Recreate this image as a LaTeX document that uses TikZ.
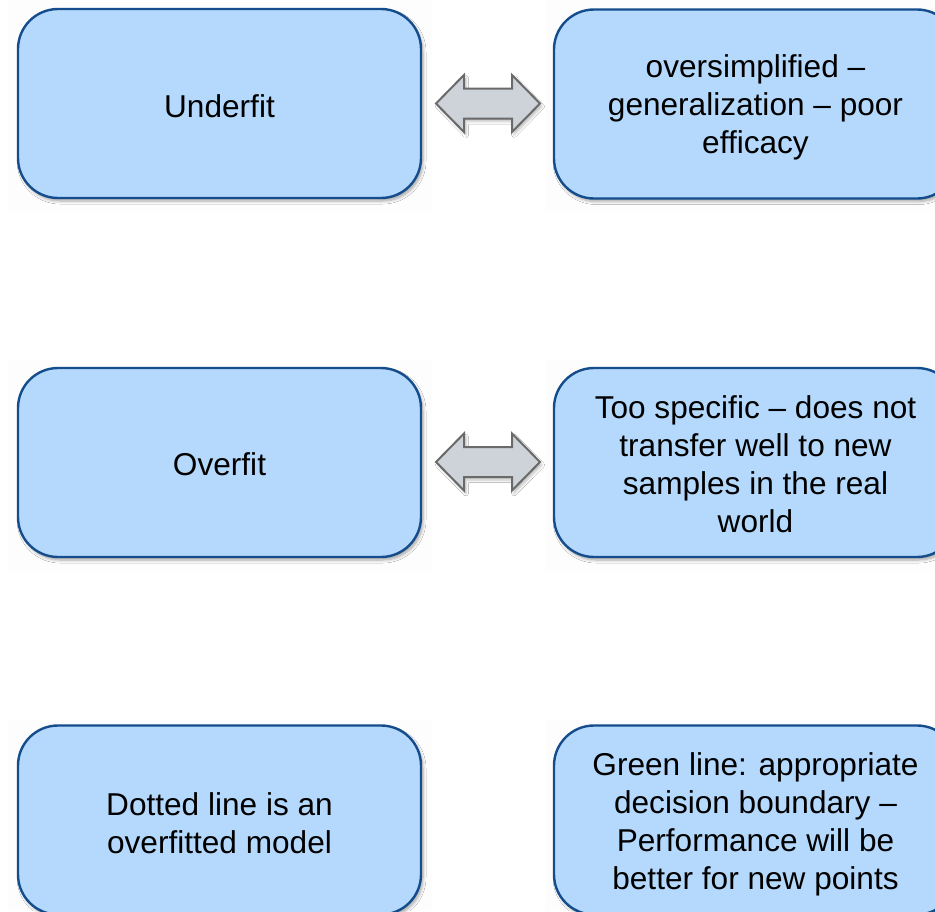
\documentclass[tikz,border=0pt]{standalone}
\usepackage{fontspec}
\setmainfont{Liberation Sans}
\usetikzlibrary{shadows.blur}

\definecolor{boxfill}{HTML}{B4D9FC}
\definecolor{boxline}{HTML}{154D8C}
\definecolor{arrfill}{HTML}{CDD3D8}
\definecolor{arrline}{HTML}{6A6A6A}
\definecolor{patch}{HTML}{FDFDFD}

\tikzset{
  infobox/.style={draw=boxline, line width=2.4pt, fill=boxfill,
    rounded corners=40pt, minimum width=403pt, minimum height=189pt,
    align=center, inner sep=0pt,
    blur shadow={shadow xshift=2pt, shadow yshift=-3pt, shadow opacity=35, shadow blur steps=6, shadow blur radius=3pt}},
  boxtext/.style={align=center, inner sep=0pt, font=\fontsize{31.6}{38}\selectfont},
  arrowshape/.style={draw=arrline, line width=2pt, fill=arrfill, line join=miter,
    blur shadow={shadow xshift=2pt, shadow yshift=-3pt, shadow opacity=25, shadow blur steps=5, shadow blur radius=2.5pt}},
  dblarrow/.pic={
    \draw[arrowshape] (-52,0) -- (-24,-28.5) -- (-24,-15) -- (24,-15) -- (24,-28.5)
      -- (52,0) -- (24,28.5) -- (24,15) -- (-24,15) -- (-24,28.5) -- cycle;
  },
  bgpatch/.style={fill=patch, draw=none}
}

\begin{document}
\begin{tikzpicture}[x=1pt, y=-1pt]
  \useasboundingbox (0,0) rectangle (935,911);
  \clip (0,0) rectangle (935,911);
  \fill[white] (0,0) rectangle (935,911);

  % faint slide backgrounds behind each box
  \fill[bgpatch] (8,0) rectangle (432,213);
  \fill[bgpatch] (545,0) rectangle (935,213);
  \fill[bgpatch] (8,360) rectangle (432,571);
  \fill[bgpatch] (545,360) rectangle (935,571);
  \fill[bgpatch] (8,720) rectangle (432,911);
  \fill[bgpatch] (545,720) rectangle (935,911);

  % row 1
  \node[infobox] (under) at (219.5,103.5) {};
  \node[boxtext] at ([yshift=-3pt]under.center) {Underfit};
  \node[infobox] (underdesc) at (755.5,104) {};
  \node[boxtext] at ([yshift=-3pt]underdesc.center) {oversimplified –\\generalization – poor\\efficacy};
  \pic (arrA) at (488,103.5) {dblarrow};

  % row 2
  \node[infobox] (over) at (219.5,462.5) {};
  \node[boxtext] at ([yshift=-2pt]over.center) {Overfit};
  \node[infobox] (overdesc) at (755.5,462.5) {};
  \node[boxtext] at ([yshift=-2pt]overdesc.center) {Too specific – does not\\transfer well to new\\samples in the real\\world};
  \pic (arrB) at (488,462) {dblarrow};

  % row 3
  \node[infobox] (dotted) at (219.5,820) {};
  \node[boxtext] at ([yshift=-3pt]dotted.center) {Dotted line is an\\overfitted model};
  \node[infobox] (green) at (755.5,820) {};
  \node[boxtext] at ([yshift=-4pt]green.center) {Green line: appropriate\\decision boundary –\\Performance will be\\better for new points};
\end{tikzpicture}
\end{document}
